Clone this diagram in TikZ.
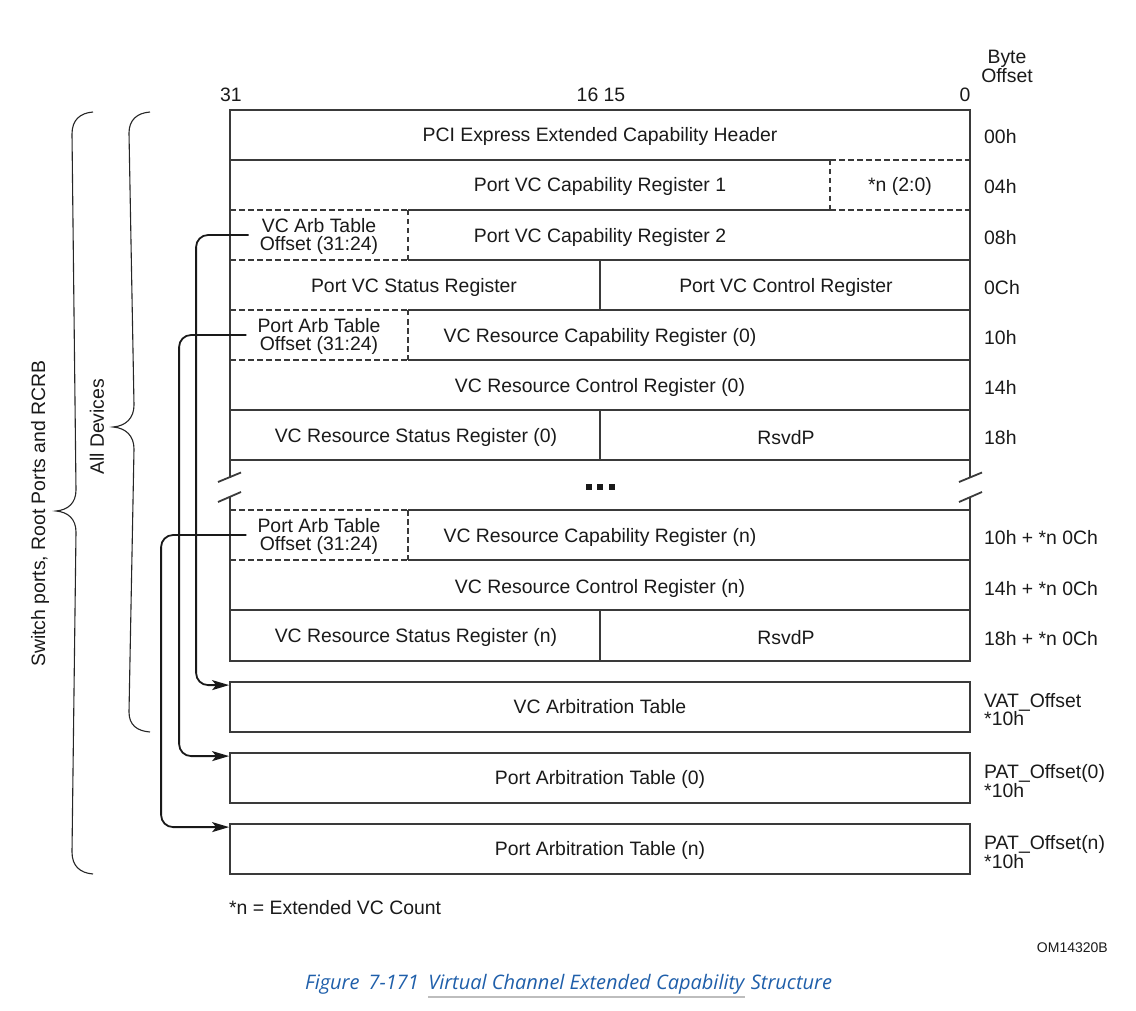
\documentclass[tikz,border=0pt]{standalone}
\usepackage{fontspec}
\setmainfont{Liberation Sans}
\newfontfamily\capfont{Open Sans}
\usetikzlibrary{arrows.meta,calc}
\definecolor{txt}{HTML}{1A1A1A}
\definecolor{lnc}{HTML}{3A3A3A}
\definecolor{capblue}{HTML}{1F5FAA}
\definecolor{ulgray}{HTML}{BDBDBD}
\begin{document}
\begin{tikzpicture}[x=1pt,y=-1pt,
  every node/.style={font=\fontsize{19.4}{18}\selectfont, text=txt, inner sep=0pt, yshift=-1.8pt},
  ln/.style={draw=lnc, line width=1.8pt},
  dl/.style={draw=lnc, line width=1.5pt, dash pattern=on 5.5pt off 3.5pt},
  arr/.style={draw=black!90, line width=1.8pt, rounded corners=12pt, -{Stealth[length=17pt,width=10pt,inset=4pt]}},
  bracel/.style={draw=black!85, line width=1.1pt},
  tbl/.style={draw=lnc, line width=1.8pt, minimum width=740pt, minimum height=50pt, yshift=1.8pt, text depth=2pt},
  lbl/.style={anchor=west, align=left},
  twol/.style={align=center},
  capf/.style={font=\capfont\itshape\fontsize{20}{22}\selectfont, text=capblue, yshift=1.8pt},
]
\fill[white] (0,0) rectangle (1136,1011);
\useasboundingbox (0,0) rectangle (1136,1011);

% main box frame
\draw[ln] (230,478) -- (230,110) -- (970,110) -- (970,478);
\draw[ln] (230,497) -- (230,661) -- (970,661) -- (970,497);
% break marks
\draw[ln] (218,482) -- (241,472.5);
\draw[ln] (218,502) -- (241,492);
\draw[ln] (959,482) -- (982,472.5);
\draw[ln] (959,502) -- (982,492);

% horizontal separators
\draw[ln] (230,160) -- (830,160); \draw[dl] (830,160) -- (970,160);
\draw[dl] (230,210) -- (408,210); \draw[ln] (408,210) -- (830,210); \draw[dl] (830,210) -- (970,210);
\draw[dl] (830,160) -- (830,210);
\draw[dl] (408,210) -- (408,260);
\draw[dl] (230,260) -- (408,260); \draw[ln] (408,260) -- (970,260);
\draw[dl] (230,310) -- (408,310); \draw[ln] (408,310) -- (970,310);
\draw[dl] (408,310) -- (408,360);
\draw[dl] (230,360) -- (408,360); \draw[ln] (408,360) -- (970,360);
\draw[ln] (230,410) -- (970,410);
\draw[ln] (230,460) -- (970,460);
\draw[dl] (230,510) -- (408,510); \draw[ln] (408,510) -- (970,510);
\draw[dl] (408,510) -- (408,560);
\draw[dl] (230,560) -- (408,560); \draw[ln] (408,560) -- (970,560);
\draw[ln] (230,610) -- (970,610);
\draw[ln] (600,260) -- (600,310);
\draw[ln] (600,410) -- (600,460);
\draw[ln] (600,610) -- (600,661);

% ellipsis
\fill[black!90] (585.5,484) rectangle ++(6,6);
\fill[black!90] (597,484) rectangle ++(6,6);
\fill[black!90] (608.5,484) rectangle ++(6,6);

% column headers
\node (b31) at (231,93) {31};
\node (b1615) at (601,93) {16 15};
\node (b0) at (965,93) {0};
\node[twol] (boff) at (1007,65) {Byte\\Offset};

% cell texts
\node (hdr) at (600,135) {PCI Express Extended Capability Header};
\node (pvc1) at (600,185) {Port VC Capability Register 1};
\node (ncnt) at (900,185) {*n (2:0)};
\node[twol] (vcarb) at (319,235) {VC Arb Table\\Offset (31:24)};
\node (pvc2) at (600,236) {Port VC Capability Register 2};
\node (pvs) at (414,286) {Port VC Status Register};
\node (pvctl) at (786,286) {Port VC Control Register};
\node[twol] (parb0) at (319,335) {Port Arb Table\\Offset (31:24)};
\node (vrc0) at (600,336) {VC Resource Capability Register (0)};
\node (vrctl0) at (600,386) {VC Resource Control Register (0)};
\node (vrs0) at (416,436) {VC Resource Status Register (0)};
\node (rsv0) at (786,436) {RsvdP};
\node[twol] (parbn) at (319,535) {Port Arb Table\\Offset (31:24)};
\node (vrcn) at (600,536) {VC Resource Capability Register (n)};
\node (vrctln) at (600,587) {VC Resource Control Register (n)};
\node (vrsn) at (416,636) {VC Resource Status Register (n)};
\node (rsvn) at (786,636) {RsvdP};

% tables
\node[tbl] (vat) at (600,707) {VC Arbitration Table};
\node[tbl] (pat0) at (600,778) {Port Arbitration Table (0)};
\node[tbl] (patn) at (600,849) {Port Arbitration Table (n)};

% byte offsets
\node[lbl] (o00) at (984,135) {00h};
\node[lbl] (o04) at (984,185) {04h};
\node[lbl] (o08) at (984,236) {08h};
\node[lbl] (o0c) at (984,286) {0Ch};
\node[lbl] (o10) at (984,336) {10h};
\node[lbl] (o14) at (984,386) {14h};
\node[lbl] (o18) at (984,436) {18h};
\node[lbl] (o10n) at (984,536) {10h + *n 0Ch};
\node[lbl] (o14n) at (984,587) {14h + *n 0Ch};
\node[lbl] (o18n) at (984,637) {18h + *n 0Ch};
\node[lbl] (ovat) at (984,708) {VAT\_Offset\\*10h};
\node[lbl] (opat0) at (984,779) {PAT\_Offset(0)\\*10h};
\node[lbl] (opatn) at (984,850) {PAT\_Offset(n)\\*10h};

% arrows
\draw[arr] ([xshift=-11pt,yshift=1.8pt]vcarb.west) -| ($(vat.north west)+(-33,4)$) -- ($(vat.north west)+(0,4)$);
\draw[arr] ([xshift=-11pt,yshift=1.8pt]parb0.west) -| ($(pat0.north west)+(-50,4)$) -- ($(pat0.north west)+(0,4)$);
\draw[arr] ([xshift=-11pt,yshift=1.8pt]parbn.west) -| ($(patn.north west)+(-68,4)$) -- ($(patn.north west)+(0,4)$);

% braces
\draw[bracel] (93,112) .. controls (80,113) and (72,120) .. (72,134) -- (76,490) .. controls (76,503) and (68,510) .. (56,511) .. controls (68,512) and (76,519) .. (76,532) -- (72,852) .. controls (72,866) and (80,873) .. (93,874);
\draw[bracel] (150,112) .. controls (137,113) and (129,120) .. (129,133) -- (134,405) .. controls (134,418) and (126,426) .. (113,427) .. controls (126,428) and (134,436) .. (134,449) -- (129,712) .. controls (129,725) and (137,731) .. (150,732);
\node[rotate=90] (swl) at (40,512) {Switch ports, Root Ports and RCRB};
\node[rotate=90] (adl) at (97,425) {All Devices};

% notes
\node[anchor=west] (fn) at (229,906) {*n = Extended VC Count};
\node[anchor=east, font=\fontsize{14}{16}\selectfont] (om) at (1108,946) {OM14320B};

% caption
\node[capf, anchor=base west] (cap1) at (305,989) {Figure\hspace{0.45em}7-171};
\node[capf, anchor=base west] (cap2) at ([xshift=9pt]cap1.base east) {Virtual Channel Extended Capability};
\node[capf, anchor=base west] (cap3) at ([xshift=6pt]cap2.base east) {Structure};
\draw[ulgray, line width=2.5pt] ([yshift=-8pt]cap2.base west) -- ([yshift=-8pt]cap2.base east);
\end{tikzpicture}
\end{document}
